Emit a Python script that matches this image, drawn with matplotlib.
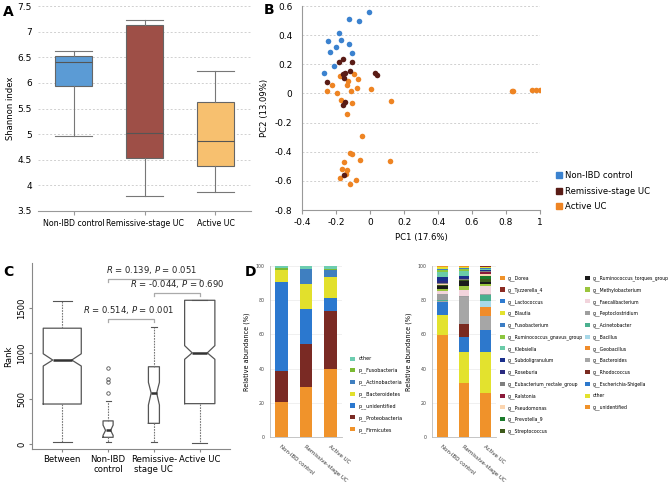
import matplotlib
matplotlib.use("Agg")
import matplotlib.pyplot as plt
from matplotlib.lines import Line2D
from matplotlib.ticker import FuncFormatter

# ---- panel A: Shannon index ----
groups = ["Non-IBD control", "Remissive-stage UC", "Active UC"]
shannon_med = [6.40, 5.02, 4.86]
shannon_q1 = [5.93, 4.53, 4.37]
shannon_q3 = [6.52, 7.13, 5.63]
shannon_lo = [4.97, 3.80, 3.87]
shannon_hi = [6.62, 7.23, 6.23]

# ---- panel B: PCoA ----
pc1_ctrl = [-0.008, -0.122, -0.065, -0.185, -0.249, -0.171, -0.126, -0.200, -0.237, -0.108, -0.212, -0.273]
pc2_ctrl = [0.556, 0.513, 0.499, 0.417, 0.362, 0.364, 0.337, 0.321, 0.282, 0.275, 0.185, 0.140]
pc1_rem = [-0.185, -0.161, -0.108, -0.120, -0.147, -0.161, -0.151, -0.251, 0.031, 0.040, -0.147, -0.161, -0.155]
pc2_rem = [0.213, 0.234, 0.218, 0.153, 0.142, 0.133, 0.103, 0.080, 0.137, 0.128, -0.060, -0.076, -0.559]
pc1_act = [-0.177, -0.130, -0.096, -0.069, -0.224, -0.138, -0.253, -0.194, -0.114, -0.075, 0.005,
           -0.171, -0.108, -0.133, 0.123, -0.048, -0.116, -0.104, -0.059, -0.155, 0.119, -0.167,
           -0.134, -0.140, -0.175, -0.081, -0.120, 0.837, 0.841, 0.951, 0.977, 0.998]
pc2_act = [0.117, 0.085, 0.130, 0.096, 0.057, 0.060, 0.016, 0.002, 0.014, 0.034, 0.030,
           -0.044, -0.069, -0.144, -0.050, -0.289, -0.410, -0.419, -0.460, -0.472, -0.467, -0.518,
           -0.527, -0.552, -0.579, -0.591, -0.621, 0.018, 0.016, 0.021, 0.021, 0.021]

# ---- panel C: ANOSIM ranks ----
rank_labels = ["Between", "Non-IBD\ncontrol", "Remissive-\nstage UC", "Active UC"]
rank_med = [926, 150, 562, 1005]
rank_q1 = [441, 74, 228, 445]
rank_q3 = [1277, 255, 852, 1585]
rank_lo = [22, 18, 25, 8]
rank_hi = [1580, 476, 1287, 1585]
rank_cilo = [860, 95, 430, 934]
rank_cihi = [995, 209, 680, 1085]
rank_fliers = [[], [842, 717, 687, 566], [], []]
anosim_text = ["$R$ = 0.514, $P$ = 0.001", "$R$ = 0.139, $P$ = 0.051", "$R$ = -0.044, $P$ = 0.690"]

# ---- panel D: relative abundance ----
bar_groups = ["Non-IBD control", "Remissive-stage UC", "Active UC"]
phyla = ["p__Firmicutes", "p__Proteobacteria", "p__unidentified", "p__Bacteroidetes",
         "p__Actinobacteria", "p__Fusobacteria", "other"]
phylum_vals = [
    [20.5, 29.2, 40.0],
    [18.0, 25.4, 33.9],
    [52.0, 20.1, 7.4],
    [7.0, 14.6, 12.3],
    [0.3, 8.7, 3.9],
    [1.2, 0.3, 0.6],
    [1.0, 1.7, 1.9],
]
genera = ["g__unidentified", "other", "g__Escherichia-Shigella", "g__Rhodococcus", "g__Bacteroides",
          "g__Geobacillus", "g__Bacillus", "g__Acinetobacter", "g__Peptoclostridium",
          "g__Faecalibacterium", "g__Methylobacterium", "g__Ruminococcus_torques_group",
          "g__Streptococcus", "g__Prevotella_9", "g__Pseudomonas", "g__Ralstonia",
          "g__Eubacterium_rectale_group", "g__Roseburia", "g__Subdoligranulum", "g__Klebsiella",
          "g__Ruminococcus_gnavus_group", "g__Fusobacterium", "g__Blautia", "g__Lactococcus",
          "g__Tyzzerella_4", "g__Dorea"]
genus_vals = [
    [59.5, 31.7, 25.5],
    [11.9, 18.2, 24.3],
    [7.8, 8.5, 12.8],
    [0.0, 7.8, 0.2],
    [0.6, 15.5, 8.2],
    [0.0, 0.0, 4.9],
    [0.0, 0.0, 3.9],
    [0.3, 0.3, 3.3],
    [3.6, 0.3, 0.4],
    [1.7, 3.9, 4.6],
    [1.2, 1.9, 1.6],
    [1.9, 3.4, 0.8],
    [0.2, 0.2, 1.9],
    [0.3, 0.2, 2.0],
    [0.2, 0.1, 1.0],
    [0.2, 0.1, 1.2],
    [0.6, 0.2, 0.3],
    [1.0, 0.7, 0.4],
    [2.6, 1.0, 0.6],
    [2.7, 3.3, 0.3],
    [1.4, 0.9, 0.2],
    [0.5, 0.4, 0.2],
    [1.1, 0.6, 0.6],
    [0.2, 0.2, 0.1],
    [0.2, 0.1, 0.5],
    [0.3, 0.5, 0.2],
]

W, H = 669, 482
fig = plt.figure(figsize=(W / 100, H / 100), dpi=100)


def px_axes(left, top, width, height):
    return fig.add_axes([left / W, 1 - (top + height) / H, width / W, height / H])


fmt_g = FuncFormatter(lambda v, p: "%g" % round(v, 2))
FS = 6.1

# ================= A =================
axA = px_axes(38, 6, 213, 205)
statsA = []
for i in range(3):
    statsA.append(dict(med=shannon_med[i], q1=shannon_q1[i], q3=shannon_q3[i],
                       whislo=shannon_lo[i], whishi=shannon_hi[i], fliers=[]))
bA = axA.bxp(statsA, positions=[0, 1, 2], widths=0.52, capwidths=0.52, patch_artist=True,
             showfliers=False,
             boxprops=dict(edgecolor="#666666", linewidth=0.8),
             medianprops=dict(color="#555555", linewidth=0.8),
             whiskerprops=dict(color="#777777", linewidth=0.8),
             capprops=dict(color="#777777", linewidth=0.8))
for patch, col in zip(bA["boxes"], ["#5B9BD5", "#9E4F47", "#F7C06F"]):
    patch.set_facecolor(col)
axA.set_xlim(-0.5, 2.5)
axA.set_ylim(3.5, 7.5)
axA.set_yticks([3.5, 4, 4.5, 5, 5.5, 6, 6.5, 7, 7.5])
axA.yaxis.set_major_formatter(fmt_g)
axA.set_xticks([0, 1, 2])
axA.set_xticklabels(groups)
axA.grid(axis="y", linestyle=(0, (2, 2)), color="#d0d0d0", linewidth=0.7)
axA.set_axisbelow(True)
for s in ["top", "right", "left"]:
    axA.spines[s].set_visible(False)
axA.spines["bottom"].set_color("#999999")
axA.tick_params(axis="y", length=0, labelsize=FS + 0.4, pad=4.5)
axA.tick_params(axis="x", length=3, color="#999999", labelsize=5.7, pad=3)
axA.set_ylabel("Shannon index", fontsize=FS, labelpad=2)

# ================= B =================
axB = px_axes(302, 6, 238, 204)
colB = ["#3B82CF", "#5A1C16", "#EE8423"]
axB.scatter(pc1_act, pc2_act, s=16, color=colB[2], zorder=3, linewidths=0)
axB.scatter(pc1_rem, pc2_rem, s=16, color=colB[1], zorder=4, linewidths=0)
axB.scatter(pc1_ctrl, pc2_ctrl, s=16, color=colB[0], zorder=3, linewidths=0)
axB.set_xlim(-0.4, 1.0)
axB.set_ylim(-0.8, 0.6)
axB.set_xticks([-0.4, -0.2, 0, 0.2, 0.4, 0.6, 0.8, 1.0])
axB.set_yticks([-0.8, -0.6, -0.4, -0.2, 0, 0.2, 0.4, 0.6])
axB.xaxis.set_major_formatter(fmt_g)
axB.yaxis.set_major_formatter(fmt_g)
axB.grid(axis="y", linestyle=(0, (2, 2)), color="#d0d0d0", linewidth=0.7)
axB.set_axisbelow(True)
for s in ["top", "right"]:
    axB.spines[s].set_visible(False)
for s in ["left", "bottom"]:
    axB.spines[s].set_color("#999999")
axB.tick_params(axis="y", length=0, labelsize=FS + 0.4, pad=7)
axB.tick_params(axis="x", length=3, color="#999999", labelsize=FS + 0.4, pad=3)
axB.set_xlabel("PC1 (17.6%)", fontsize=FS, labelpad=4)
axB.set_ylabel("PC2 (13.09%)", fontsize=FS, labelpad=4)
hB = [Line2D([], [], marker="s", linestyle="none", markersize=4.2, color=c) for c in colB]
fig.legend(hB, groups, loc="upper left", bbox_to_anchor=(551 / W, 1 - 167 / H),
           frameon=False, fontsize=FS, handletextpad=0.1, labelspacing=0.75,
           borderpad=0, handlelength=1.0)

# ================= C =================
axC = px_axes(32, 263, 198, 186)
statsC = []
for i in range(4):
    statsC.append(dict(med=rank_med[i], q1=rank_q1[i], q3=rank_q3[i], whislo=rank_lo[i],
                       whishi=rank_hi[i], cilo=rank_cilo[i], cihi=rank_cihi[i],
                       fliers=rank_fliers[i]))
wC = [0.83, 0.22, 0.24, 0.66]
axC.bxp(statsC, positions=[1, 2, 3, 4], widths=wC, capwidths=[w * 0.5 for w in wC],
        shownotches=True,
        boxprops=dict(color="#555555", linewidth=0.9),
        medianprops=dict(color="#333333", linewidth=1.8),
        whiskerprops=dict(color="#777777", linewidth=0.8, linestyle=(0, (1.5, 1))),
        capprops=dict(color="#555555", linewidth=0.8),
        flierprops=dict(marker="o", markersize=2.5, markerfacecolor="none",
                        markeredgecolor="#555555", markeredgewidth=0.6))
axC.set_xlim(0.34, 4.66)
axC.set_ylim(-55, 1996)
axC.set_xticks([1, 2, 3, 4])
axC.set_xticklabels(rank_labels)
axC.set_yticks([0, 500, 1000, 1500])
for lab in axC.get_yticklabels():
    lab.set_rotation(90)
    lab.set_va("center")
for s in ["top", "right"]:
    axC.spines[s].set_visible(False)
for s in ["left", "bottom"]:
    axC.spines[s].set_color("#888888")
axC.tick_params(axis="both", length=2, color="#888888", labelsize=FS, pad=2)
axC.set_ylabel("Rank", fontsize=FS, labelpad=3)

pairs = [(2, 3, 1378), (2, 4, 1819), (3, 4, 1665)]
text_x = [2.45, 2.95, 3.5]
for (a, b, yv), txt, tx in zip(pairs, anosim_text, text_x):
    axC.plot([a, a, b, b], [yv - 35, yv, yv, yv - 35], color="#aaaaaa", linewidth=0.9,
             clip_on=False)
    axC.text(tx, yv + 35, txt, ha="center", va="bottom", fontsize=FS, color="#222222")

# ================= D (phylum) =================
phylum_colors = ["#F0932B", "#7A2A24", "#2B78CF", "#E2E02C", "#3F7FC0", "#7BBA33", "#6DCDB0"]
axD1 = px_axes(270, 266, 72, 171)
bottom = [0, 0, 0]
for name, vals, col in zip(phyla, phylum_vals, phylum_colors):
    axD1.bar([0, 1, 2], vals, width=0.52, bottom=bottom, color=col, label=name, zorder=3)
    bottom = [b + v for b, v in zip(bottom, vals)]

genus_colors = ["#F0922A", "#E3E22E", "#2D78CC", "#7A2A20", "#A6A6A6", "#F08C2A", "#A8D8E8",
                "#4BB08F", "#9E9E9E", "#F2D4DC", "#9BC53D", "#1A1A1A", "#3D5A1A", "#1A7A2A",
                "#FBD5B0", "#8B1A3A", "#7F7F7F", "#2B2A80", "#1A2F8C", "#6ACBA8", "#8CC63F",
                "#3C7DC4", "#E3E22E", "#2E7BD0", "#8B2A22", "#F0922A"]
axD2 = px_axes(432, 266, 64, 171)
bottom = [0, 0, 0]
for name, vals, col in zip(genera, genus_vals, genus_colors):
    axD2.bar([0, 1, 2], vals, width=0.51, bottom=bottom, color=col, label=name, zorder=3)
    bottom = [b + v for b, v in zip(bottom, vals)]

for ax, xl in [(axD1, (-0.46, 2.46)), (axD2, (-0.49, 2.49))]:
    ax.set_xlim(*xl)
    ax.set_ylim(0, 100)
    ax.set_yticks([0, 20, 40, 60, 80, 100])
    ax.set_xticks([0, 1, 2])
    ax.set_xticklabels(bar_groups, rotation=-40, ha="left", va="top", rotation_mode="anchor",
                       fontsize=4.0)
    ax.grid(axis="y", color="#eeeeee", linewidth=0.6)
    for s in ["top", "right"]:
        ax.spines[s].set_visible(False)
    for s in ["left", "bottom"]:
        ax.spines[s].set_color("#bbbbbb")
        ax.spines[s].set_linewidth(0.6)
    ax.tick_params(axis="y", length=0, labelsize=3.4, pad=4, labelcolor="#444444")
    ax.tick_params(axis="x", length=0, pad=5, labelcolor="#333333")
    ax.set_ylabel("Relative abundance (%)", fontsize=4.7, labelpad=4)

leg_kw = dict(frameon=False, handlelength=0.9, handleheight=0.9, handletextpad=0.7,
              borderpad=0, labelspacing=1.25, fontsize=3.55)
hP, lP = axD1.get_legend_handles_labels()
fig.legend(hP[::-1], lP[::-1], loc="upper left", bbox_to_anchor=(348 / W, 1 - 354 / H), **leg_kw)

gen_kw = dict(frameon=False, handlelength=1.0, handleheight=1.0, handletextpad=0.7,
              borderpad=0, labelspacing=1.33, fontsize=3.3)
hG, lG = axD2.get_legend_handles_labels()
hG, lG = hG[::-1], lG[::-1]
fig.legend(hG[:14], lG[:14], loc="upper left", bbox_to_anchor=(498 / W, 1 - 273 / H), **gen_kw)
fig.legend(hG[14:], lG[14:], loc="upper left", bbox_to_anchor=(583 / W, 1 - 273 / H), **gen_kw)

# panel letters
for letter, x, y in [("A", 3, 12), ("B", 264, 10), ("C", 3, 272), ("D", 245, 272)]:
    fig.text(x / W, 1 - y / H, letter, fontsize=10, fontweight="bold", va="center")

fig.savefig("out.png", dpi=100)
